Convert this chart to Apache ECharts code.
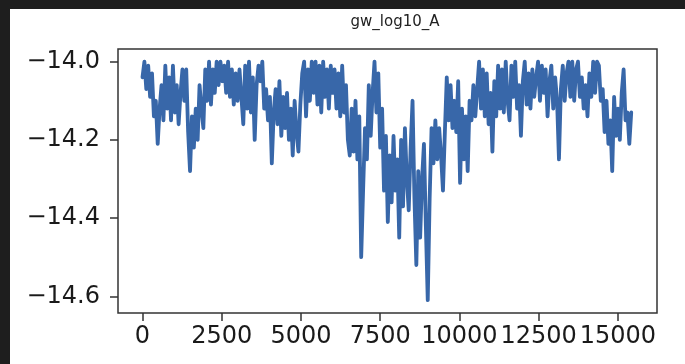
<!DOCTYPE html>
<html>
<head>
<meta charset="utf-8">
<script src="https://cdn.jsdelivr.net/npm/echarts@6/dist/echarts.min.js"></script>
<style>
  html, body {
    margin: 0;
    padding: 0;
    width: 685px;
    height: 364px;
    background: #1e1e1e;  /* dark frame around the figure */
    overflow: hidden;
  }
  #chart {
    position: absolute;
    left: 10px;
    top: 9px;
    width: 675px;
    height: 355px;
    background: #ffffff;
  }
</style>
</head>
<body>
<div id="chart"></div>
<script>
// trace of gw_log10_A, one sample every xStep iterations
const xStep = 60
const gwLog10A = [
  -14.04, -14.00, -14.07, -14.01, -14.09, -14.03, -14.14, -14.10, -14.21, -14.12,
  -14.06, -14.15, -14.01, -14.12, -14.04, -14.15, -14.01, -14.13, -14.06, -14.16,
  -14.08, -14.02, -14.10, -14.02, -14.18, -14.28, -14.14, -14.22, -14.12, -14.20,
  -14.06, -14.12, -14.17, -14.02, -14.10, -14.00, -14.11, -14.02, -14.08, -14.00,
  -14.06, -14.00, -14.05, -14.01, -14.08, -14.00, -14.09, -14.02, -14.11, -14.03,
  -14.10, -14.02, -14.09, -14.16, -14.01, -14.12, -14.00, -14.13, -14.04, -14.20,
  -14.06, -14.01, -14.05, -14.00, -14.12, -14.07, -14.15, -14.09, -14.26, -14.13,
  -14.07, -14.16, -14.05, -14.19, -14.09, -14.17, -14.08, -14.20, -14.12, -14.24,
  -14.10, -14.18, -14.23, -14.11, -14.03, -14.00, -14.14, -14.02, -14.10, -14.00,
  -14.08, -14.00, -14.11, -14.01, -14.13, -14.00, -14.09, -14.02, -14.12, -14.01,
  -14.08, -14.02, -14.12, -14.03, -14.14, -14.01, -14.13, -14.06, -14.20, -14.24,
  -14.12, -14.23, -14.10, -14.25, -14.14, -14.50, -14.33, -14.17, -14.25, -14.06,
  -14.19, -14.08, -14.00, -14.13, -14.03, -14.22, -14.12, -14.33, -14.19, -14.41,
  -14.24, -14.36, -14.19, -14.33, -14.25, -14.45, -14.20, -14.37, -14.17, -14.30,
  -14.38, -14.22, -14.10, -14.35, -14.52, -14.28, -14.45, -14.30, -14.21, -14.42,
  -14.61, -14.35, -14.17, -14.26, -14.15, -14.25, -14.17, -14.24, -14.33, -14.18,
  -14.04, -14.15, -14.06, -14.17, -14.10, -14.18, -14.05, -14.31, -14.12, -14.25,
  -14.14, -14.28, -14.10, -14.15, -14.06, -14.14, -14.07, -14.00, -14.12, -14.02,
  -14.14, -14.03, -14.16, -14.08, -14.23, -14.05, -14.14, -14.01, -14.12, -14.02,
  -14.13, -14.00, -14.10, -14.15, -14.01, -14.09, -14.00, -14.12, -14.06, -14.19,
  -14.05, -14.00, -14.11, -14.03, -14.12, -14.02, -14.09, -14.04, -14.00, -14.10,
  -14.01, -14.08, -14.02, -14.14, -14.05, -14.01, -14.12, -14.04, -14.10, -14.25,
  -14.07, -14.01, -14.10, -14.03, -14.00, -14.09, -14.00, -14.10, -14.02, -14.00,
  -14.09, -14.04, -14.12, -14.06, -14.14, -14.03, -14.09, -14.00, -14.08, -14.00,
  -14.01, -14.10, -14.07, -14.18, -14.10, -14.21, -14.15, -14.28, -14.09, -14.19,
  -14.12, -14.20, -14.08, -14.02, -14.15, -14.13, -14.21, -14.13
]

const xTicks = [0, 2500, 5000, 7500, 10000, 12500, 15000]
const yTicks = [-14.6, -14.4, -14.2, -14.0]

const axisColor = '#333'
const labelFont = {
  fontFamily: 'DejaVu Sans',
  fontSize: 24,
  color: '#1a1a1a'
}

const myChart = echarts.init(document.getElementById('chart'))

myChart.setOption({
  animation: false,
  title: {
    text: 'gw_log10_A',
    left: 380,
    top: 1,
    textAlign: 'center',
    textStyle: {
      fontFamily: 'DejaVu Sans',
      fontSize: 15,
      fontWeight: 'normal',
      color: '#222'
    }
  },
  grid: {
    left: 108,
    right: 28,
    top: 40,
    bottom: 51,
    show: true,
    borderColor: axisColor,
    borderWidth: 1.5,
    backgroundColor: '#fff'
  },
  xAxis: {
    type: 'value',
    min: -773,
    max: 16233,
    splitLine: { show: false },
    axisLine: { show: false, onZero: false },
    axisTick: {
      show: true,
      length: 8,
      customValues: xTicks,
      lineStyle: { color: axisColor, width: 1.5 }
    },
    axisLabel: {
      customValues: xTicks,
      margin: 12,
      hideOverlap: false,
      showMinLabel: true,
      showMaxLabel: true,
      formatter: v => String(v),
      ...labelFont
    }
  },
  yAxis: {
    type: 'value',
    min: -14.6427,
    max: -13.9676,
    splitLine: { show: false },
    axisLine: { show: false, onZero: false },
    axisTick: {
      show: true,
      length: 8,
      customValues: yTicks,
      lineStyle: { color: axisColor, width: 1.5 }
    },
    axisLabel: {
      customValues: yTicks,
      margin: 18,
      formatter: v => (v < 0 ? '\u2212' : '') + Math.abs(v).toFixed(1),
      ...labelFont
    }
  },
  series: [{
    type: 'line',
    data: gwLog10A.map((v, i) => [i * xStep, v]),
    showSymbol: false,
    symbol: 'none',
    lineStyle: { color: '#3867a9', width: 3.8, join: 'round', cap: 'round' },
    silent: true
  }]
})
</script>
</body>
</html>
